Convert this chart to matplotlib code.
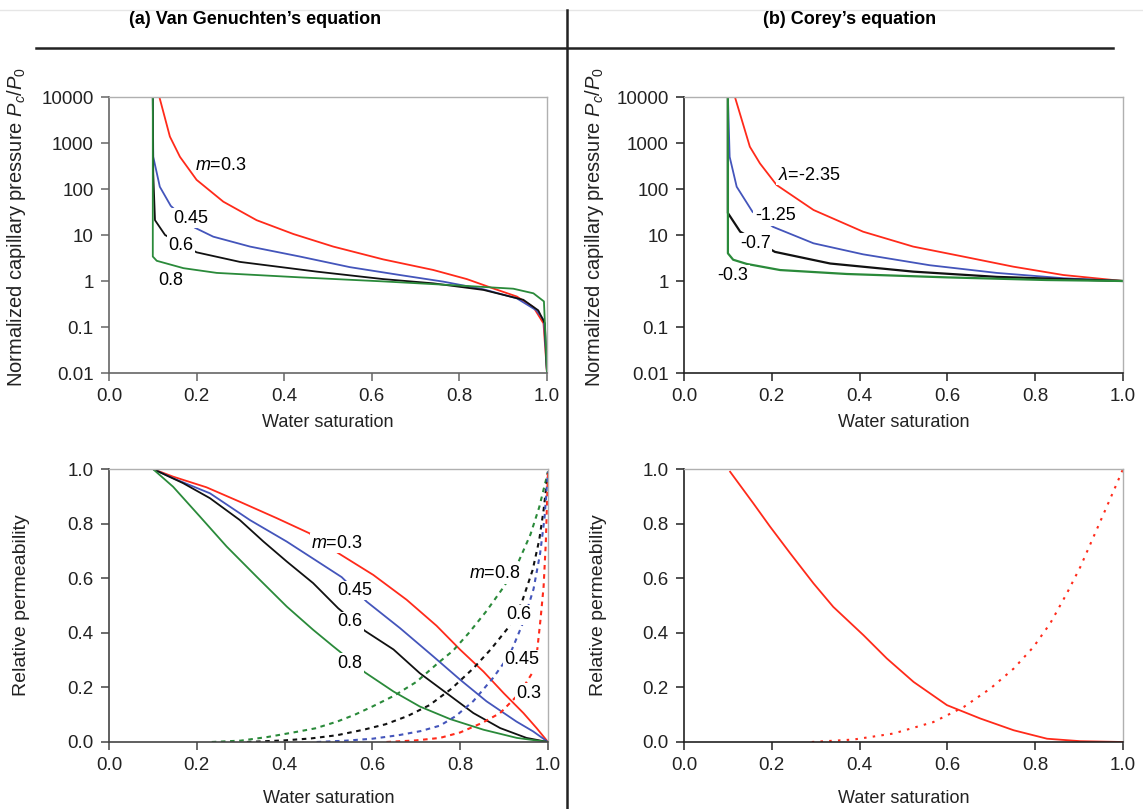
import matplotlib
matplotlib.use("Agg")
import matplotlib.pyplot as plt
from matplotlib.lines import Line2D
from matplotlib.ticker import FixedLocator, FixedFormatter, NullLocator

plt.rcParams["font.family"] = ["Liberation Sans", "DejaVu Sans"]
plt.rcParams["mathtext.fontset"] = "custom"
plt.rcParams["mathtext.rm"] = "Liberation Sans"
plt.rcParams["mathtext.it"] = "Liberation Sans:italic"

RED, BLUE, BLACK, GREEN = "#ff2a1a", "#4455bb", "#111111", "#2a8a3a"

# (a) Van Genuchten, capillary pressure
vg_pc_red_x = [0.115, 0.139, 0.162, 0.200, 0.261, 0.337, 0.421, 0.512, 0.626, 0.740, 0.817, 0.877, 0.931, 0.969, 0.992, 1.0]
vg_pc_red_y = [10000, 1380, 500, 158, 53, 21, 10.5, 5.6, 2.95, 1.74, 1.1, 0.69, 0.46, 0.27, 0.12, 0.01]
vg_pc_blue_x = [0.100, 0.101, 0.116, 0.141, 0.196, 0.238, 0.322, 0.436, 0.550, 0.664, 0.763, 0.855, 0.931, 0.976, 0.993, 1.0]
vg_pc_blue_y = [10000, 500, 112, 43, 14.4, 9.2, 5.6, 3.4, 2.0, 1.35, 0.97, 0.66, 0.42, 0.23, 0.14, 0.01]
vg_pc_black_x = [0.100, 0.101, 0.105, 0.128, 0.200, 0.299, 0.474, 0.626, 0.740, 0.855, 0.946, 0.980, 0.995, 1.0]
vg_pc_black_y = [10000, 220, 21, 10, 4.2, 2.6, 1.6, 1.1, 0.89, 0.64, 0.39, 0.23, 0.12, 0.01]
vg_pc_green_x = [0.100, 0.100, 0.109, 0.170, 0.246, 0.436, 0.626, 0.817, 0.923, 0.969, 0.993, 0.997, 1.0]
vg_pc_green_y = [10000, 3.4, 2.75, 1.9, 1.5, 1.2, 0.98, 0.78, 0.68, 0.54, 0.36, 0.05, 0.01]

# (b) Corey, capillary pressure
co_pc_red_x = [0.116, 0.150, 0.173, 0.211, 0.295, 0.408, 0.522, 0.636, 0.750, 0.864, 1.0]
co_pc_red_y = [10000, 830, 360, 122, 35, 11.8, 5.6, 3.4, 2.05, 1.35, 1.0]
co_pc_blue_x = [0.100, 0.104, 0.120, 0.156, 0.203, 0.295, 0.408, 0.560, 0.712, 0.864, 1.0]
co_pc_blue_y = [10000, 500, 112, 32, 15, 6.6, 3.8, 2.2, 1.5, 1.15, 1.0]
co_pc_black_x = [0.100, 0.100, 0.128, 0.207, 0.333, 0.522, 0.712, 0.864, 1.0]
co_pc_black_y = [10000, 30, 11.8, 4.3, 2.4, 1.6, 1.23, 1.1, 1.0]
co_pc_green_x = [0.100, 0.100, 0.112, 0.143, 0.219, 0.371, 0.598, 0.826, 1.0]
co_pc_green_y = [10000, 4.0, 2.9, 2.35, 1.73, 1.42, 1.2, 1.05, 1.0]

# (a) Van Genuchten, relative permeability (solid = decreasing, dotted = increasing)
vg_kr_red_x = [0.1, 0.146, 0.222, 0.298, 0.382, 0.456, 0.522, 0.602, 0.678, 0.746, 0.800, 0.853, 0.899, 0.944, 0.974, 1.0]
vg_kr_red_y = [1.0, 0.972, 0.933, 0.880, 0.820, 0.765, 0.692, 0.612, 0.521, 0.426, 0.338, 0.258, 0.179, 0.106, 0.051, 0.0]
vg_kr_blue_x = [0.1, 0.146, 0.230, 0.321, 0.405, 0.481, 0.530, 0.587, 0.663, 0.739, 0.800, 0.860, 0.928, 0.966, 1.0]
vg_kr_blue_y = [1.0, 0.966, 0.911, 0.813, 0.734, 0.655, 0.604, 0.514, 0.417, 0.313, 0.228, 0.149, 0.075, 0.039, 0.0]
vg_kr_black_x = [0.1, 0.169, 0.230, 0.298, 0.352, 0.405, 0.465, 0.522, 0.583, 0.648, 0.708, 0.769, 0.830, 0.891, 0.951, 1.0]
vg_kr_black_y = [1.0, 0.948, 0.893, 0.813, 0.734, 0.661, 0.582, 0.490, 0.407, 0.339, 0.252, 0.179, 0.106, 0.051, 0.015, 0.0]
vg_kr_green_x = [0.1, 0.146, 0.207, 0.268, 0.336, 0.405, 0.465, 0.511, 0.525, 0.583, 0.648, 0.708, 0.777, 0.853, 0.929, 1.0]
vg_kr_green_y = [1.0, 0.935, 0.826, 0.716, 0.606, 0.496, 0.411, 0.350, 0.332, 0.255, 0.185, 0.130, 0.084, 0.045, 0.015, 0.0]

vg_krw_green_x = [0.234, 0.30, 0.36, 0.42, 0.47, 0.52, 0.56, 0.60, 0.65, 0.70, 0.75, 0.784, 0.82, 0.86, 0.90, 0.93, 0.96, 0.98, 1.0]
vg_krw_green_y = [0.0, 0.005, 0.018, 0.035, 0.05, 0.075, 0.10, 0.13, 0.17, 0.22, 0.29, 0.335, 0.40, 0.48, 0.57, 0.65, 0.76, 0.86, 0.99]
vg_krw_black_x = [0.314, 0.40, 0.46, 0.52, 0.58, 0.63, 0.68, 0.73, 0.78, 0.83, 0.87, 0.91, 0.94, 0.965, 0.98, 0.99, 1.0]
vg_krw_black_y = [0.0, 0.006, 0.013, 0.025, 0.045, 0.065, 0.095, 0.135, 0.195, 0.27, 0.34, 0.42, 0.51, 0.63, 0.74, 0.85, 0.99]
vg_krw_blue_x = [0.473, 0.54, 0.60, 0.66, 0.71, 0.754, 0.79, 0.83, 0.875, 0.913, 0.944, 0.967, 0.982, 0.992, 1.0]
vg_krw_blue_y = [0.0, 0.005, 0.012, 0.025, 0.04, 0.06, 0.095, 0.15, 0.235, 0.32, 0.44, 0.56, 0.69, 0.82, 0.99]
vg_krw_red_x = [0.632, 0.70, 0.754, 0.80, 0.85, 0.891, 0.936, 0.963, 0.975, 0.983, 0.99, 0.995, 1.0]
vg_krw_red_y = [0.0, 0.006, 0.015, 0.035, 0.07, 0.106, 0.18, 0.25, 0.33, 0.45, 0.57, 0.73, 0.99]

# (b) Corey, relative permeability
co_kr_x = [0.105, 0.158, 0.196, 0.242, 0.295, 0.340, 0.409, 0.462, 0.523, 0.599, 0.675, 0.751, 0.827, 0.903, 1.0]
co_kr_y = [0.990, 0.874, 0.789, 0.691, 0.581, 0.495, 0.391, 0.306, 0.220, 0.135, 0.086, 0.043, 0.012, 0.003, 0.0]
co_krw_x = [0.291, 0.386, 0.477, 0.568, 0.637, 0.698, 0.751, 0.796, 0.834, 0.872, 0.903, 0.933, 0.963, 0.986, 1.0]
co_krw_y = [0.0, 0.009, 0.031, 0.073, 0.128, 0.196, 0.269, 0.348, 0.434, 0.544, 0.642, 0.752, 0.862, 0.947, 1.0]

pc_ticks = [0.01, 0.1, 1, 10, 100, 1000, 10000]
pc_tick_labels = ["0.01", "0.1", "1", "10", "100", "1000", "10000"]
sat_ticks = [0.0, 0.2, 0.4, 0.6, 0.8, 1.0]
kr_ticks = [0.0, 0.2, 0.4, 0.6, 0.8, 1.0]

W, H = 1143, 809
fig = plt.figure(figsize=(W / 100, H / 100), dpi=100)


def box(left, top, right, bottom):
    return [left / W, 1 - bottom / H, (right - left) / W, (bottom - top) / H]


def style(ax, dark):
    for side in ("left", "bottom"):
        ax.spines[side].set_color(dark)
        ax.spines[side].set_linewidth(1.2)
    for side in ("top", "right"):
        ax.spines[side].set_color("#b0b0b0")
        ax.spines[side].set_linewidth(1.0)
    ax.tick_params(direction="out", length=6, width=1.1, color=dark, labelsize=13.5, pad=5,
                   labelcolor="#222222")
    ax.set_xlim(0, 1)
    ax.xaxis.set_major_locator(FixedLocator(sat_ticks))
    ax.xaxis.set_major_formatter(FixedFormatter([f"{t:.1f}" for t in sat_ticks]))


def label(ax, x, y, s):
    ax.text(x, y, s, ha="center", va="center", fontsize=13, zorder=5,
            bbox=dict(facecolor="white", edgecolor="none", pad=1.0))


lw = 1.3

ax1 = fig.add_axes(box(109, 97, 547, 373))
ax2 = fig.add_axes(box(684, 97, 1123, 373))
ax3 = fig.add_axes(box(109, 469, 548, 742))
ax4 = fig.add_axes(box(684, 469, 1123, 742))

for ax, dark in ((ax1, "#666666"), (ax2, "#222222")):
    style(ax, dark)
    ax.set_yscale("log")
    ax.set_ylim(0.01, 10000)
    ax.yaxis.set_major_locator(FixedLocator(pc_ticks))
    ax.yaxis.set_major_formatter(FixedFormatter(pc_tick_labels))
    ax.yaxis.set_minor_locator(NullLocator())
    ax.set_xlabel("Water saturation", fontsize=13, color="#222222")
    ax.xaxis.set_label_coords(0.5, -0.15)
    ax.set_ylabel("Normalized capillary pressure $P_c/P_0$", fontsize=14.5, color="#222222")

ax1.yaxis.set_label_coords(-0.186, 0.53)
ax2.yaxis.set_label_coords(-0.178, 0.53)

ax1.plot(vg_pc_red_x, vg_pc_red_y, color=RED, lw=lw)
ax1.plot(vg_pc_blue_x, vg_pc_blue_y, color=BLUE, lw=lw)
ax1.plot(vg_pc_black_x, vg_pc_black_y, color=BLACK, lw=lw)
ax1.plot(vg_pc_green_x, vg_pc_green_y, color=GREEN, lw=lw)
label(ax1, 0.256, 330, "$m$=0.3")
label(ax1, 0.186, 23.4, "0.45")
label(ax1, 0.164, 6.0, "0.6")
label(ax1, 0.141, 1.05, "0.8")

ax2.plot(co_pc_red_x, co_pc_red_y, color=RED, lw=lw)
ax2.plot(co_pc_blue_x, co_pc_blue_y, color=BLUE, lw=lw)
ax2.plot(co_pc_black_x, co_pc_black_y, color=BLACK, lw=lw + 0.3)
ax2.plot(co_pc_green_x, co_pc_green_y, color=GREEN, lw=lw + 0.3)
label(ax2, 0.285, 200, "$\\mathit{λ}$=-2.35")
label(ax2, 0.208, 26, "-1.25")
label(ax2, 0.163, 6.7, "-0.7")
label(ax2, 0.112, 1.35, "-0.3")

for ax, dark in ((ax3, "#444444"), (ax4, "#222222")):
    style(ax, dark)
    ax.set_ylim(0, 1)
    ax.yaxis.set_major_locator(FixedLocator(kr_ticks))
    ax.yaxis.set_major_formatter(FixedFormatter([f"{t:.1f}" for t in kr_ticks]))
    ax.set_xlabel("Water saturation", fontsize=13, color="#222222")
    ax.xaxis.set_label_coords(0.5, -0.175)
    ax.set_ylabel("Relative permeability", fontsize=14, color="#222222")

ax3.yaxis.set_label_coords(-0.18, 0.5)
ax4.yaxis.set_label_coords(-0.176, 0.5)

dash = (0, (2.2, 2.2))
ax3.plot(vg_kr_red_x, vg_kr_red_y, color=RED, lw=lw)
ax3.plot(vg_kr_blue_x, vg_kr_blue_y, color=BLUE, lw=lw)
ax3.plot(vg_kr_black_x, vg_kr_black_y, color=BLACK, lw=lw)
ax3.plot(vg_kr_green_x, vg_kr_green_y, color=GREEN, lw=lw)
ax3.plot(vg_krw_green_x, vg_krw_green_y, color=GREEN, lw=lw + 0.2, ls=dash)
ax3.plot(vg_krw_black_x, vg_krw_black_y, color=BLACK, lw=lw + 0.2, ls=dash)
ax3.plot(vg_krw_blue_x, vg_krw_blue_y, color=BLUE, lw=lw + 0.2, ls=dash)
ax3.plot(vg_krw_red_x, vg_krw_red_y, color=RED, lw=lw + 0.2, ls=dash)
label(ax3, 0.520, 0.728, "$m$=0.3")
label(ax3, 0.559, 0.555, "0.45")
label(ax3, 0.548, 0.441, "0.6")
label(ax3, 0.548, 0.289, "0.8")
label(ax3, 0.879, 0.616, "$m$=0.8")
label(ax3, 0.933, 0.466, "0.6")
label(ax3, 0.941, 0.301, "0.45")
label(ax3, 0.957, 0.179, "0.3")

ax4.plot(co_kr_x, co_kr_y, color=RED, lw=lw)
ax4.plot(co_krw_x, co_krw_y, color=RED, lw=lw + 0.2, ls=(0, (1.2, 3.0)))

# headers and divider lines
fig.text(255 / W, 1 - 20 / H, "(a) Van Genuchten\u2019s equation", ha="center", va="center",
         fontsize=13, fontweight="bold")
fig.text(850 / W, 1 - 20 / H, "(b) Corey\u2019s equation", ha="center", va="center",
         fontsize=13, fontweight="bold")
fig.add_artist(Line2D([0, 1], [1 - 10 / H] * 2, color="#e6e6e6", lw=1.0))
fig.add_artist(Line2D([36 / W, 1113 / W], [1 - 48 / H] * 2, color="#222222", lw=1.8))
fig.add_artist(Line2D([567 / W, 567 / W], [0, 1 - 10 / H], color="#222222", lw=1.8))

fig.savefig("out.png", dpi=100)
